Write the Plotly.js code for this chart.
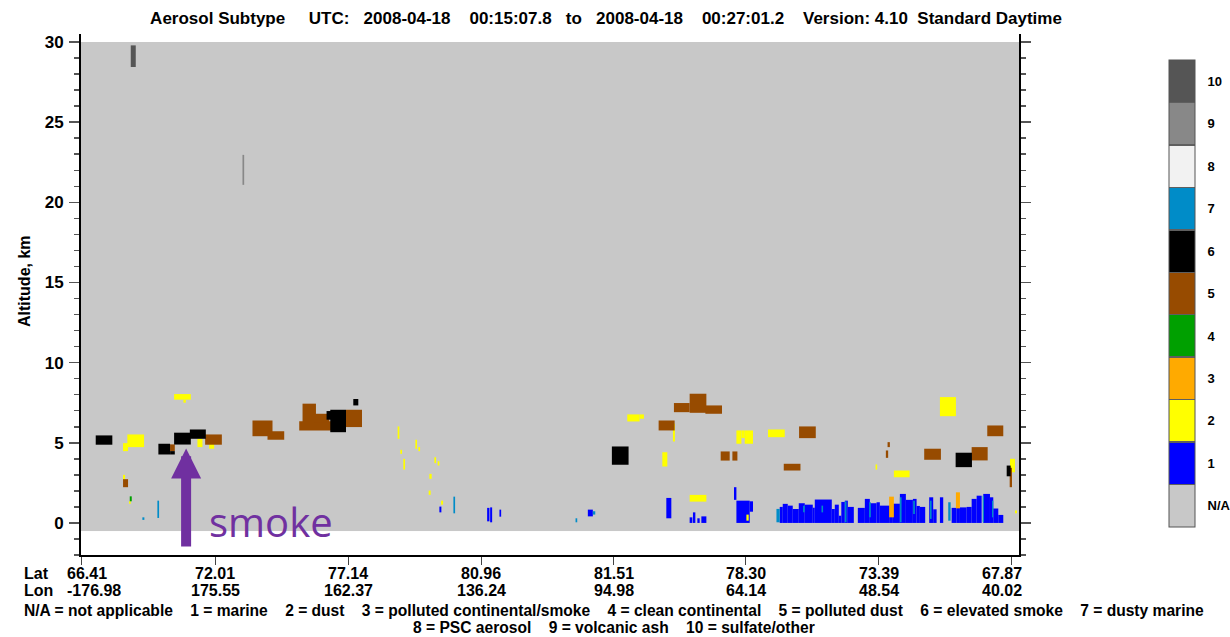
<!DOCTYPE html>
<html><head><meta charset="utf-8">
<script src="https://cdn.plot.ly/plotly-3.0.1.min.js"></script>
<style>html,body{margin:0;padding:0;background:#fff;} #chart{width:1230px;height:637px;}</style>
</head><body><div id="chart"></div>
<script>
// ---- classes ----
const classLabels = ['N/A','1','2','3','4','5','6','7','8','9','10'];
const classNames = ['not applicable','marine','dust','polluted continental/smoke','clean continental','polluted dust','elevated smoke','dusty marine','PSC aerosol','volcanic ash','sulfate/other'];
const classColors = ['#C8C8C8','#0000FF','#FFFF00','#FFAA00','#00A000','#974B00','#000000','#008CC8','#F2F2F2','#888888','#555555'];

// ---- x axis (profile index) ticks ----
const tickProfiles = [0,134,267,400,532,664,797,930];
const latTicks = ['66.41','72.01','77.14','80.96','81.51','78.30','73.39','67.87'];
const lonTicks = ['-176.98','175.55','162.37','136.24','94.98','64.14','48.54','40.02'];
const altTicks = [0,5,10,15,20,25,30];

// ---- curtain extent (N/A background) ----
const curtainProfiles = [0,937];
const curtainAlt = [-0.5,30];

// ---- aerosol layers: [profile start, profile end, base km, top km] ----
const marine = [
[358,360,0.66,1.02],[405.7,408,0.1,0.94],[408.7,410.7,0.04,0.97],[418,419.7,0.39,0.83],
[506.3,511.3,0.41,0.83],[584.7,589.7,0.29,1.56],[608,610.7,0,0.35],[611.3,613.7,0,0.66],
[615.7,618,0,0.29],[619.7,624.7,0,0.41],[652.3,654.7,1.44,2.23],[654.7,668,0,1.39],[668,671.3,0.7,1.35],
[698,701,0,1.0],[701,706,0,1.19],[706,711,0,1.08],[711,717,0,0.87],[717,723,0,1.23],
[723,731,0,1.14],[731,733,0,0.95],[733,750,0,1.46],[750,753,0,0.87],[753,757,0,1.14],
[757,759.5,0,0.45],[759.5,763,0,1.31],[763,766,0,1.39],[766,772,0,1.0],[776,783,0,0.94],
[783,788,0,1.5],[788,794.7,0,1.23],[794.7,798,0,1.29],[798,808,0,1.08],[808,811,0,1.6],
[811,818,0,1.2],[818,824,0,1.81],[824,831,0,1.44],[831,834.7,0,1.5],[834.7,838,0,1.06],
[838,843.3,0,1.0],[847.3,851.3,0,1.6],[851.3,854.7,0,0.85],[858,861.3,0,1.6],[869.7,874.7,0,0.94],
[874.7,878,0,0.94],[878,884.7,0,0.97],[884.7,889.7,0,1.0],[889.7,894.7,0,1.5],[894.7,899.7,0,1.7],
[901.3,908,0,1.81],[908,911.3,0,1.6],[911.3,916.3,0,0.9],[916.3,921.3,0,0.5]
];
const dust = [
[46.3,63,4.73,5.52],[42,47,4.48,4.98],[93,109.7,7.69,8.04],[102.3,104.7,7.5,7.69],
[116.3,121.3,4.73,5.25],[128,133,4.63,5.14],[42,44,2.7,3.0],[48,49.7,1.19,1.35],
[316.3,318,5.25,6.02],[319,320.7,4.31,4.56],[322,323.7,3.33,4.0],[334,335.7,4.63,5.19],
[337,338.7,4.48,4.73],[353,354.7,3.73,4.1],[356.3,358,3.58,3.85],[348,350.3,2.75,3.06],
[347.3,349.3,1.75,2.02],[359.7,361.7,1.14,1.39],[545.7,558,6.33,6.77],[558,562.3,6.5,6.77],
[591.3,593.3,5.08,6.19],[580.7,585.7,3.52,4.41],[608,624.7,1.33,1.75],[654.7,659.7,4.94,5.77],
[659.7,663,5.3,5.77],[663,671.3,4.94,5.77],[664.7,667,0.14,0.52],[686.3,703,5.35,5.83],
[793.7,795.3,3.33,3.65],[812,827.7,2.85,3.27],[858,874,6.66,7.85],[928,933,3.16,4.0],[933,935,0.6,0.77]
];
const pollutedContinental = [[807.3,812,0.35,1.64],[874,878,0.91,1.91]];
const cleanContinental = [[48.7,50.7,1.35,1.66]];
const pollutedDust = [
[89,93.7,4.48,4.9],[124,140.7,4.88,5.52],[42,47,2.23,2.73],[171.3,191.3,5.41,6.39],
[186.3,203,5.19,5.72],[221.3,234.7,6.29,7.44],[218,251.3,5.77,6.35],[233,248,6.29,6.81],
[264.7,280.7,5.98,7.06],[577,593,5.77,6.39],[592.3,608,6.91,7.48],[608,624.7,6.87,8.06],
[623.7,640.3,6.81,7.33],[639,648,3.89,4.46],[650.7,655.7,3.89,4.46],[702,718.7,3.27,3.69],
[717.3,734,5.29,6.02],[805.7,808,4.73,5.04],[804,806.3,4.06,4.52],[842.3,859,3.94,4.63],
[889.7,905.7,3.9,4.73],[905.3,921.3,5.41,6.08],[927.7,930,2.23,3.44]
];
const elevatedSmoke = [
[14.7,31.3,4.88,5.46],[77.3,89,4.27,4.94],[89,93.7,4.27,4.48],[93,109.7,4.89,5.63],
[108.7,124.7,5.25,5.83],[249,264.7,5.66,7.06],[245.3,251.3,6.44,6.98],[272,277,7.33,7.73],
[530.3,547,3.63,4.77],[873.7,890,3.48,4.38],[924.7,928.7,2.91,3.58]
];
const dustyMarine = [
[61.3,63.3,0.19,0.35],[76.3,78,0.31,1.39],[372,373.7,0.6,1.64],[494,495.7,0.04,0.29],
[511.3,513.7,0.52,0.73],[694.7,698,0.04,0.875],[721.3,723,0.66,1.08],[739.7,741.3,0.66,1.08],
[763,764.7,0.04,1.35],[787.3,789,0.35,1.29],[818,819.7,0.04,1.6],[831.3,833,0.56,1.39],
[848,849.7,0.25,1.39],[866.3,868.7,0.14,1.29],[900.7,902,0.04,1.7],[910,911.3,0.35,1.39]
];
const pscAerosol = [];
const volcanicAsh = [[161.3,163,21.09,22.96]];
const sulfateOther = [[49.7,54.7,28.44,29.79]];

const layersByClass = [null, marine, dust, pollutedContinental, cleanContinental, pollutedDust, elevatedSmoke, dustyMarine, pscAerosol, volcanicAsh, sulfateOther];

// ---- build ----
const FONT = 'Liberation Sans, Arial, Helvetica, sans-serif';
const W = 1230, H = 637;
const M = {l:81, r:211, t:34, b:82};
const PW = W - M.l - M.r, PH = H - M.t - M.b;
const pxX = px => (px - M.l) / PW;
const pxY = py => (H - M.b - py) / PH;
const bold = (size) => ({family: FONT, size: size, color: '#000', weight: 'bold'});

// discrete colorscale with thin separators
const sep = 0.0016, sepColor = '#5f5f5f';
const cs = [[0, classColors[0]]];
for (let i = 1; i < 11; i++) {
  const b = i / 11;
  cs.push([b - sep, classColors[i-1]]);
  cs.push([b - sep, sepColor]);
  cs.push([b + sep, sepColor]);
  cs.push([b + sep, classColors[i]]);
}
cs.push([1, classColors[10]]);

const traces = [];
traces.push({
  type: 'heatmap',
  x: curtainProfiles, y: curtainAlt, z: [[0]],
  zmin: -0.5, zmax: 10.5, colorscale: cs,
  hoverinfo: 'skip',
  colorbar: {
    xref: 'paper', x: pxX(1169), xanchor: 'left', xpad: 0,
    yref: 'paper', y: pxY(527), yanchor: 'bottom', ypad: 0,
    len: 467, lenmode: 'pixels', thickness: 26, thicknessmode: 'pixels',
    outlinewidth: 1, outlinecolor: '#555',
    tickmode: 'array', tickvals: classLabels.map((_, i) => i), ticktext: classLabels,
    ticks: 'outside', ticklen: 10, tickcolor: 'rgba(0,0,0,0)',
    tickfont: bold(13)
  }
});
for (let c = 1; c < layersByClass.length; c++) {
  const rows = layersByClass[c];
  if (!rows.length) continue;
  traces.push({
    type: 'bar', name: classNames[c],
    x: rows.map(r => (r[0] + r[1]) / 2),
    width: rows.map(r => r[1] - r[0]),
    base: rows.map(r => r[2]),
    y: rows.map(r => r[3] - r[2]),
    marker: {color: classColors[c], line: {width: 0}},
    hoverinfo: 'skip', showlegend: false
  });
}

const nb = n => '\u00A0'.repeat(n);
const titleText = 'Aerosol Subtype' + nb(5) + 'UTC:' + nb(3) + '2008-04-18' + nb(4) + '00:15:07.8' + nb(3) + 'to' + nb(3) +
  '2008-04-18' + nb(4) + '00:27:01.2' + nb(4) + 'Version: 4.10' + nb(2) + 'Standard Daytime';

const legendItems = classLabels.map((l, i) => l + ' = ' + classNames[i]);
const legendLine1 = legendItems.slice(0, 8).join(nb(4));
const legendLine2 = legendItems.slice(8).join(nb(4));

const annotations = [
  {xref: 'paper', yref: 'paper', x: pxX(24), y: pxY(281), text: 'Altitude, km', textangle: -90,
   showarrow: false, xanchor: 'center', yanchor: 'middle', font: bold(16)},
  {xref: 'paper', yref: 'paper', x: pxX(22), y: pxY(573), text: 'Lat', showarrow: false,
   xanchor: 'left', yanchor: 'middle', font: bold(16)},
  {xref: 'paper', yref: 'paper', x: pxX(22), y: pxY(590), text: 'Lon', showarrow: false,
   xanchor: 'left', yanchor: 'middle', font: bold(16)},
  {xref: 'paper', yref: 'paper', x: pxX(614), y: pxY(610), text: legendLine1,
   showarrow: false, xanchor: 'center', yanchor: 'middle', font: bold(15.6)},
  {xref: 'paper', yref: 'paper', x: pxX(614), y: pxY(627), text: legendLine2,
   showarrow: false, xanchor: 'center', yanchor: 'middle', font: bold(15.6)},
  {xref: 'x', yref: 'y', x: 105, y: 4.64, text: '\u00A0', font: {size: 1},
   showarrow: true, ax: 0, ay: 100, arrowcolor: '#7030A0', arrowwidth: 10, arrowhead: 2, arrowsize: 0.6},
  {xref: 'paper', yref: 'paper', x: pxX(207), y: pxY(521), text: 'smoke', showarrow: false,
   xanchor: 'left', yanchor: 'middle', font: {family: 'Open Sans, sans-serif', size: 40, color: '#7030A0'}}
];
// lat / lon tick labels (first kept inside on the left, last on the right)
tickProfiles.forEach((p, i) => {
  const last = i === tickProfiles.length - 1, first = i === 0;
  const anchor = first ? 'left' : (last ? 'right' : 'center');
  const shift = first ? -16 : (last ? 12 : 0);
  [[latTicks[i], 573], [lonTicks[i], 590]].forEach(([t, py]) => {
    annotations.push({xref: 'x', yref: 'paper', x: p, y: pxY(py), text: t, showarrow: false,
      xanchor: anchor, xshift: shift, yanchor: 'middle', font: bold(16)});
  });
});

const layout = {
  width: W, height: H,
  margin: {l: M.l, r: M.r, t: M.t, b: M.b, autoexpand: false},
  paper_bgcolor: '#fff', plot_bgcolor: '#fff',
  font: {family: FONT, color: '#000'},
  barmode: 'overlay',
  showlegend: false,
  hovermode: false,
  title: {
    text: titleText, xref: 'container', x: 606 / W, xanchor: 'center',
    yref: 'container', y: 1 - 18 / H, yanchor: 'middle', font: bold(17)
  },
  xaxis: {
    range: [curtainProfiles[0], curtainProfiles[1]], showgrid: false, zeroline: false,
    showline: true, linecolor: '#000', linewidth: 2, mirror: false,
    tickmode: 'array', tickvals: tickProfiles, showticklabels: false,
    ticks: 'outside', ticklen: 8, tickwidth: 1, tickcolor: '#444'
  },
  yaxis: {
    range: [-2, 30.5], showgrid: false, zeroline: false,
    showline: true, linecolor: '#000', linewidth: 2, mirror: 'ticks',
    tickmode: 'array', tickvals: altTicks,
    ticks: 'outside', ticklen: 10, tickwidth: 1.5, tickcolor: '#555',
    ticklabelstandoff: 2,
    minor: {dtick: 1, ticks: 'outside', ticklen: 5, tickwidth: 1.5, tickcolor: '#555', showgrid: false},
    tickfont: bold(17)
  },
  annotations: annotations
};

Plotly.newPlot('chart', traces, layout, {displayModeBar: false, staticPlot: true});
</script>
</body></html>
